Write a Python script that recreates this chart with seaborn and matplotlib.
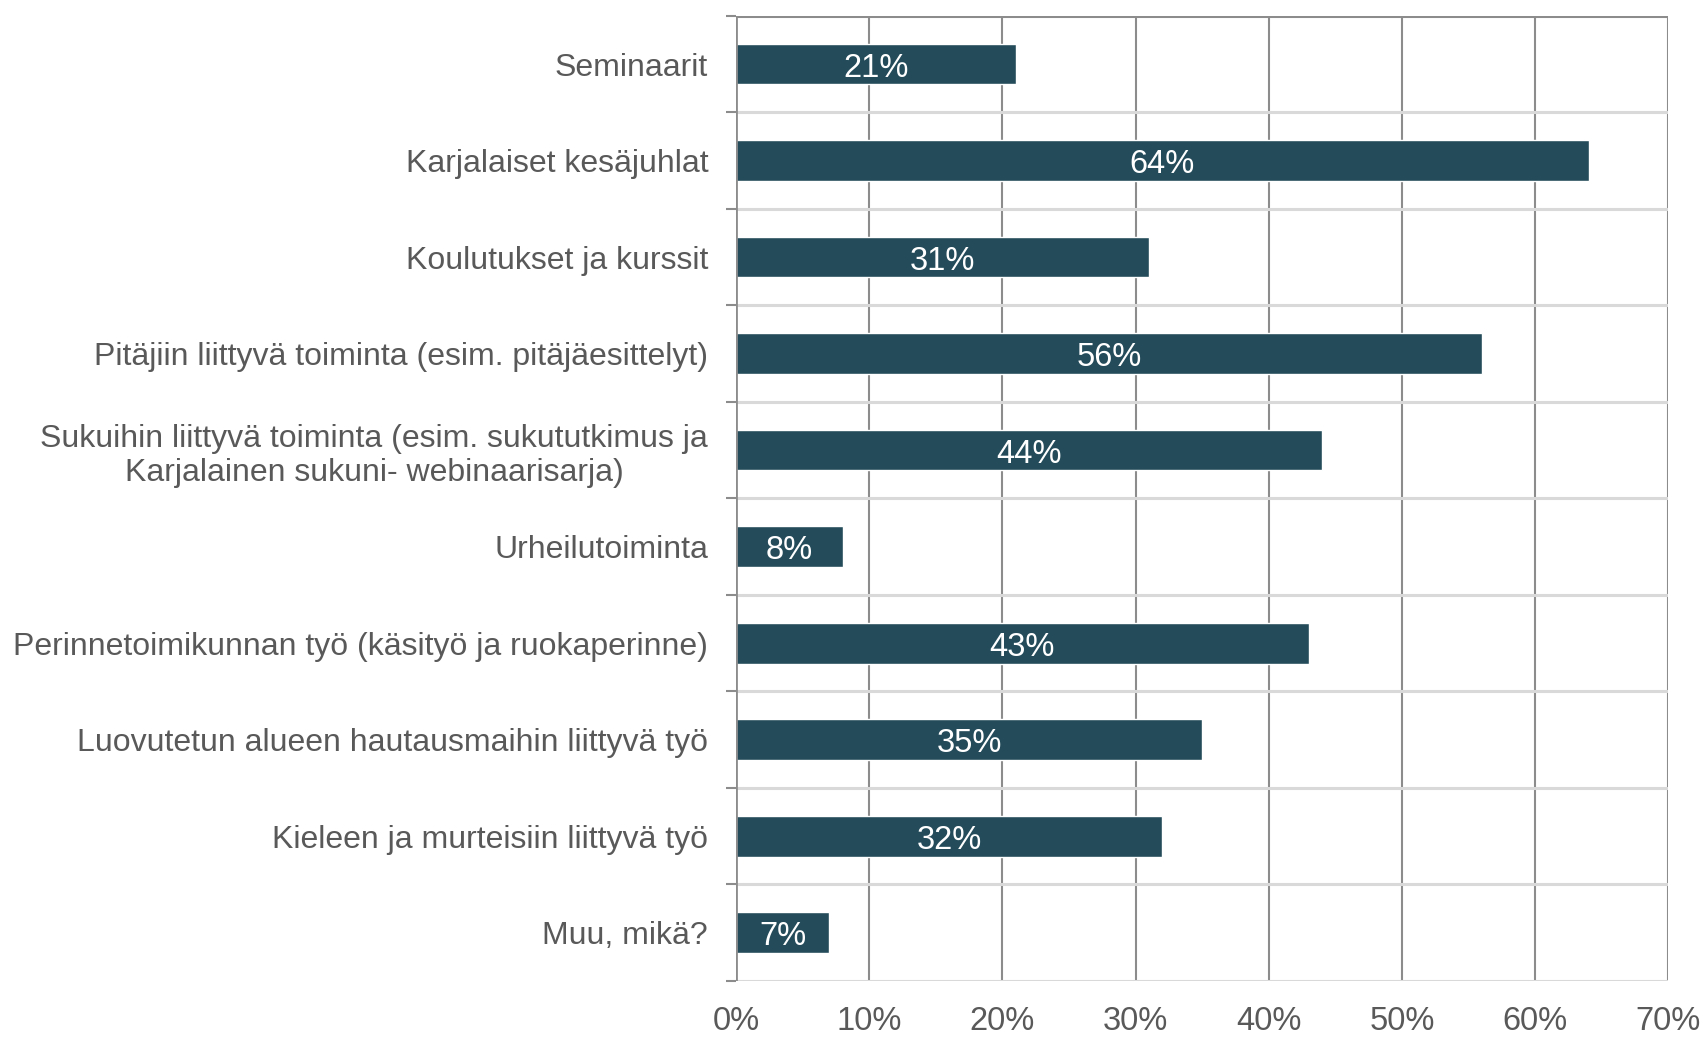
import pandas as pd
import numpy as np
import seaborn as sns
import matplotlib.pyplot as plt

# data
categories = [
    'Seminaarit',
    'Karjalaiset kesäjuhlat',
    'Koulutukset ja kurssit',
    'Pitäjiin liittyvä toiminta (esim. pitäjäesittelyt)',
    'Sukuihin liittyvä toiminta (esim. sukututkimus ja\nKarjalainen sukuni- webinaarisarja)',
    'Urheilutoiminta',
    'Perinnetoimikunnan työ (käsityö ja ruokaperinne)',
    'Luovutetun alueen hautausmaihin liittyvä työ',
    'Kieleen ja murteisiin liittyvä työ',
    'Muu, mikä?',
]
shares = [21, 64, 31, 56, 44, 8, 43, 35, 32, 7]
x_ticks = [0, 10, 20, 30, 40, 50, 60, 70]
x_labels = ['0%', '10%', '20%', '30%', '40%', '50%', '60%', '70%']

df = pd.DataFrame({'category': categories, 'share': shares})

sns.set_style('white')
plt.rcParams['font.family'] = ['Liberation Sans', 'DejaVu Sans']

bar_col = '#234B5A'
txt_col = '#595959'

fig = plt.figure(figsize=(17.06, 10.37), dpi=100)
ax = fig.add_axes([0.4314, 0.054, 0.978 - 0.4314, 0.9846 - 0.054])

sns.barplot(data=df, x='share', y='category', color=bar_col, width=0.42,
            saturation=1, ax=ax)

# value labels inside bars
for cont in ax.containers:
    anns = ax.bar_label(cont, labels=[f'{v}%' for v in shares], label_type='center',
                        color='white', fontsize=23.5)
    for a in anns:
        a.xyann = (0, -3)

n = len(categories)
ax.set_xlim(0, 70)
ax.set_ylim(n - 0.5, -0.5)
ax.set_xticks(x_ticks)
ax.set_xticklabels(x_labels)
ax.set_xlabel('')
ax.set_ylabel('')

# gridlines: vertical darker, horizontal at category borders lighter
for xv in x_ticks[1:]:
    ax.axvline(xv, color='#8c8c8c', lw=1.5, zorder=0)
for yb in np.arange(-0.5, n, 1.0):
    col = '#8c8c8c' if yb == -0.5 else '#d9d9d9'
    ax.axhline(yb, color=col, lw=2.2, zorder=0.5)

for s in ax.spines.values():
    s.set_visible(False)
ax.axvline(0, color='#8c8c8c', lw=2, zorder=3)

ax.set_yticks(np.arange(-0.5, n, 1.0), minor=True)
ax.tick_params(axis='y', which='minor', length=7, width=1.5, color='#8c8c8c', left=True)
ax.tick_params(axis='y', which='major', length=0, pad=20, labelsize=23, labelcolor=txt_col)
for lab in ax.get_yticklabels():
    lab.set_multialignment('center')
ax.tick_params(axis='x', length=0, pad=18, labelsize=23.5, labelcolor=txt_col)

fig.savefig('out.png', dpi=100)
